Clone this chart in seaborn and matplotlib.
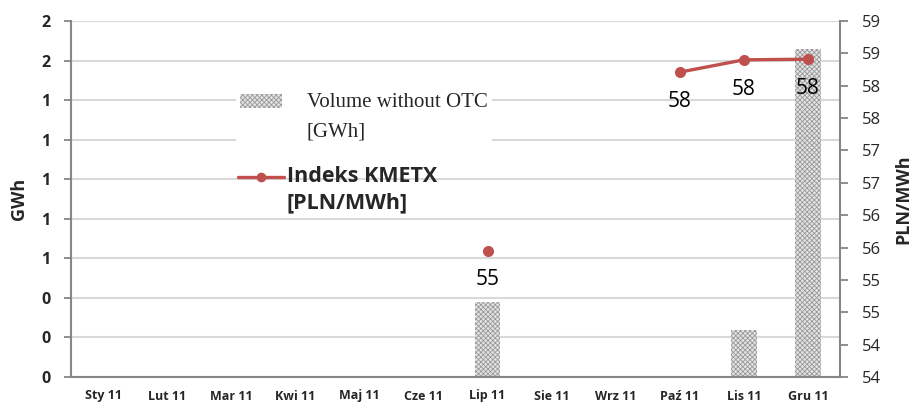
import numpy as np
import pandas as pd
import matplotlib
matplotlib.use("Agg")
import matplotlib.pyplot as plt
from matplotlib.patches import Patch, Rectangle
from matplotlib.lines import Line2D
from matplotlib.legend_handler import HandlerPatch, HandlerLine2D
import seaborn as sns

months = ["Sty 11", "Lut 11", "Mar 11", "Kwi 11", "Maj 11", "Cze 11",
          "Lip 11", "Sie 11", "Wrz 11", "Paź 11", "Lis 11", "Gru 11"]
volume_gwh = [np.nan, np.nan, np.nan, np.nan, np.nan, np.nan,
              0.38, np.nan, np.nan, np.nan, 0.24, 1.66]
kmetx_pln = [np.nan, np.nan, np.nan, np.nan, np.nan, np.nan,
             55.45, np.nan, np.nan, 58.21, 58.40, 58.41]

left_ticks = [0.0, 0.2, 0.4, 0.6, 0.8, 1.0, 1.2, 1.4, 1.6, 1.8]
left_ticklabels = ["0", "0", "0", "1", "1", "1", "1", "1", "2", "2"]
right_ticks = [53.5, 54.0, 54.5, 55.0, 55.5, 56.0, 56.5, 57.0, 57.5, 58.0, 58.5, 59.0]
right_ticklabels = ["54", "54", "55", "55", "56", "56", "57", "57", "58", "58", "59", "59"]

BAR_FACE = "#e4e4e4"
BAR_HATCH = "#999999"
LINE_COLOR = "#c0504d"
AXIS_GREY = "#868686"
GRID_GREY = "#d9d9d9"


class RaisedLineHandler(HandlerLine2D):
    """Puts the legend line next to the first text line instead of the middle."""

    def __init__(self, shift, **kw):
        super().__init__(**kw)
        self.shift = shift

    def create_artists(self, legend, orig_handle, xdescent, ydescent, width, height, fontsize, trans):
        return super().create_artists(legend, orig_handle, xdescent, ydescent - 2 * self.shift * fontsize,
                                      width, height, fontsize, trans)


def raised_patch(legend, orig_handle, xdescent, ydescent, width, height, fontsize):
    return Rectangle((-xdescent, -ydescent + 0.75 * fontsize), width, height)


sns.set_style("white")
plt.rcParams["font.family"] = ["Open Sans", "DejaVu Sans"]
plt.rcParams["hatch.linewidth"] = 0.6

df = pd.DataFrame({"month": months, "pos": np.arange(len(months)),
                   "volume": volume_gwh, "price": kmetx_pln})
# break the line wherever a month has no price
df["segment"] = df["price"].isna().cumsum()

fig, ax1 = plt.subplots(figsize=(9.15, 4.03), dpi=100)
fig.subplots_adjust(left=71 / 915, right=840 / 915, bottom=1 - 377 / 403, top=1 - 21 / 403)
ax2 = ax1.twinx()

sns.barplot(data=df, x="month", y="volume", order=months, ax=ax1, width=0.4,
            color=BAR_FACE, errorbar=None, saturation=1, linewidth=0)
for bar in ax1.patches:
    bar.set_hatch("xxxxxxx")
    bar.set_edgecolor(BAR_HATCH)
    bar.set_linewidth(0)

line_df = df.dropna(subset=["price"])
sns.lineplot(data=line_df, x="pos", y="price", units="segment", estimator=None,
             ax=ax2, color=LINE_COLOR, linewidth=2.4, marker="o", markersize=8,
             markeredgewidth=0, legend=False)

for pos, price in zip(line_df["pos"], line_df["price"]):
    ax2.annotate(f"{price:.0f}", (pos, price), xytext=(0, -21), textcoords="offset points",
                 ha="center", va="center", fontsize=15, color="black")

# axes
ax1.set_xlim(-0.5, len(months) - 0.5)
ax1.set_ylim(0, 1.8)
ax2.set_ylim(53.5, 59)
ax1.set_xticks(np.arange(len(months)))
ax1.set_xticklabels(months, fontsize=9, fontweight="bold")
ax1.set_xticks(np.arange(-0.5, len(months), 1), minor=True)
ax1.tick_params(axis="x", which="major", length=0, pad=9)
ax1.tick_params(axis="x", which="minor", length=5, width=1.3, color=AXIS_GREY, direction="out")
ax1.set_yticks(left_ticks)
ax1.set_yticklabels(left_ticklabels, fontsize=11.5, fontweight="bold")
ax1.tick_params(axis="y", length=5, width=1.3, color=AXIS_GREY, pad=10, left=True)
ax2.set_yticks(right_ticks)
ax2.set_yticklabels(right_ticklabels, fontsize=12)
ax2.tick_params(axis="y", length=6, width=1.3, color=AXIS_GREY, pad=10, right=True)

ax1.yaxis.grid(True, color=GRID_GREY, linewidth=1.5)
ax1.set_axisbelow(True)

for s in ["top", "right"]:
    ax1.spines[s].set_visible(False)
for s in ["top", "left", "bottom"]:
    ax2.spines[s].set_visible(False)
for sp in [ax1.spines["left"], ax1.spines["bottom"], ax2.spines["right"]]:
    sp.set_color(AXIS_GREY)
    sp.set_linewidth(1.5)

ax1.set_xlabel("")
ax1.set_ylabel("GWh", fontsize=13, fontweight="bold", va="center", ha="center")
ax1.yaxis.set_label_coords(-0.068, 0.5)
ax2.set_xlabel("")
ax2.set_ylabel("PLN/MWh", fontsize=13, fontweight="bold", rotation=90, va="center", ha="center")
ax2.yaxis.set_label_coords(1.083, 0.5)

# legends: two separate boxes like the original
vol_handle = Patch(facecolor=BAR_FACE, edgecolor=BAR_HATCH, hatch="xxxxxxx", linewidth=0)
leg1 = ax2.legend([vol_handle], ["Volume without OTC\n[GWh]"], loc="upper left",
                  bbox_to_anchor=(0.2146, 0.81), frameon=True, fancybox=False,
                  facecolor="white", edgecolor="none", framealpha=1,
                  prop={"family": "Liberation Serif", "size": 15},
                  handlelength=2.0, handleheight=0.6, handletextpad=1.2,
                  borderpad=0.2, borderaxespad=0,
                  handler_map={Patch: HandlerPatch(patch_func=raised_patch)})
leg1.get_texts()[0].set_linespacing(1.75)
ax2.add_artist(leg1)

kmetx_handle = Line2D([], [], color=LINE_COLOR, linewidth=2.4, marker="o",
                      markersize=7, markeredgewidth=0)
leg2 = ax2.legend([kmetx_handle], ["Indeks KMETX\n[PLN/MWh]"], loc="upper left",
                  bbox_to_anchor=(0.212, 0.605), frameon=False,
                  prop={"family": "Open Sans", "weight": "bold", "size": 15.5},
                  handlelength=2.1, handletextpad=0.15, borderpad=0.2, borderaxespad=0,
                  handler_map={Line2D: RaisedLineHandler(0.62)})
leg2.get_texts()[0].set_linespacing(1.35)

fig.savefig("out.png", dpi=100)
